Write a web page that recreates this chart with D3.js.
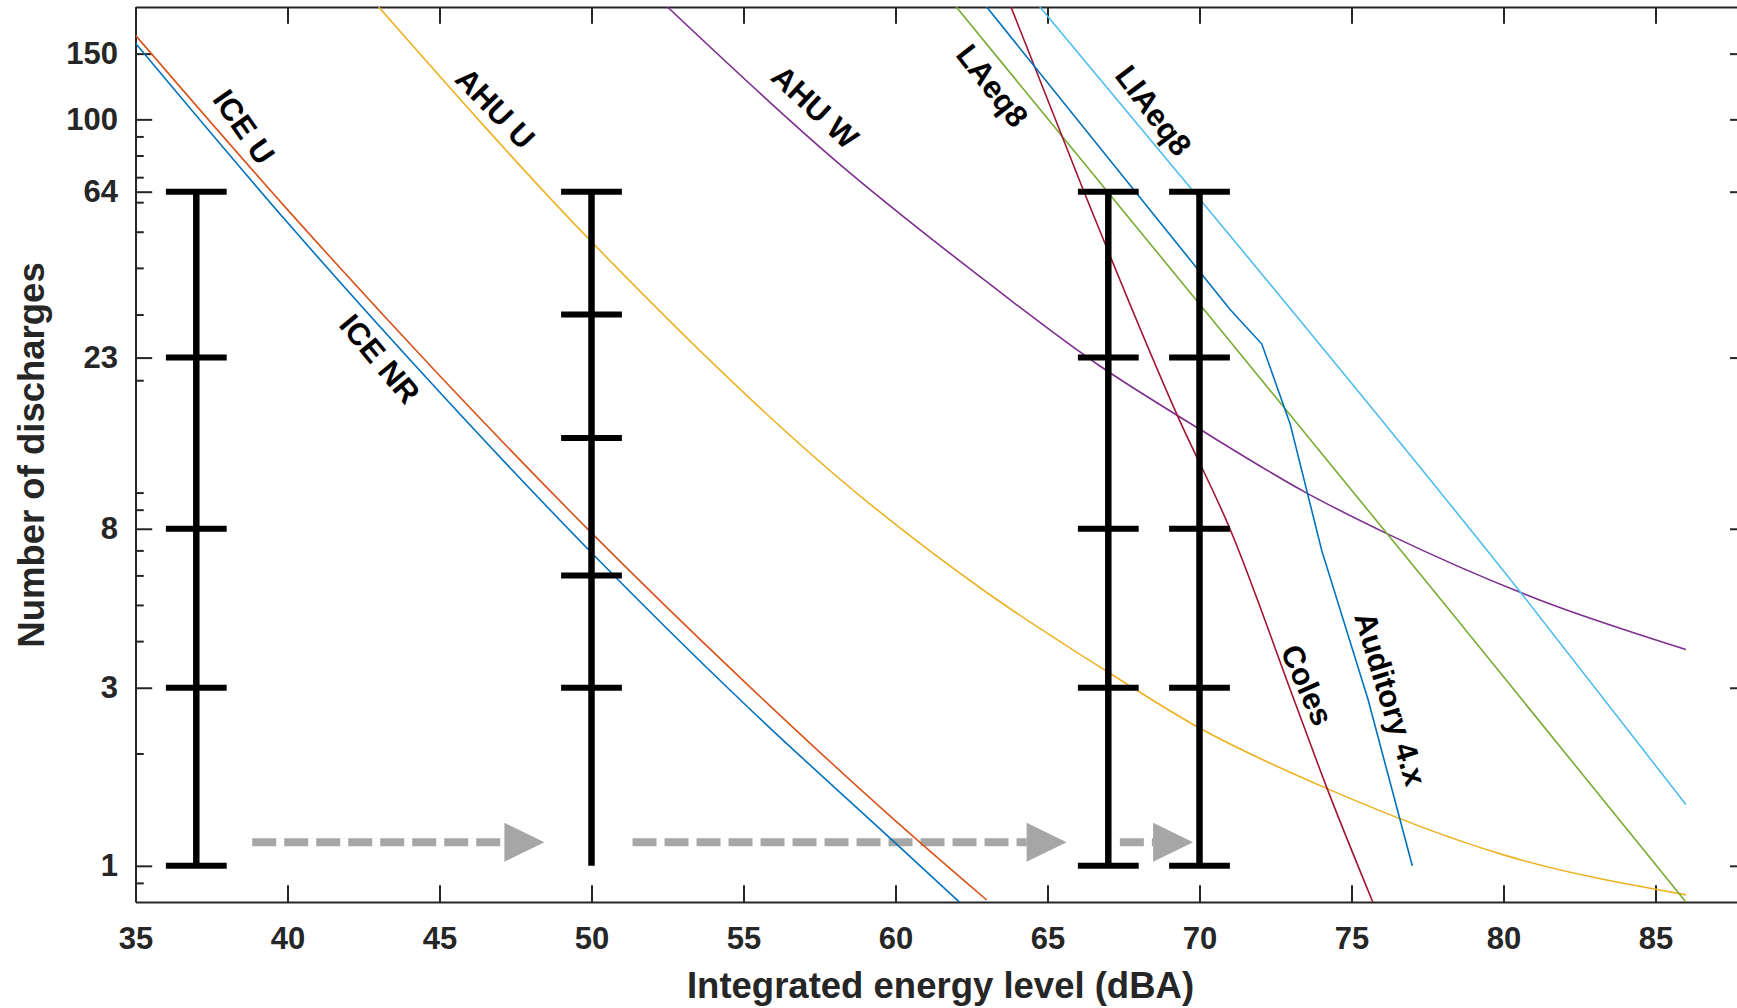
<!DOCTYPE html>
<html><head><meta charset="utf-8">
<script src="https://cdn.jsdelivr.net/npm/d3@7"></script>
<style>
body{margin:0;background:#fff}
svg{display:block}
text{font-family:"Liberation Sans",Arial,Helvetica,sans-serif;font-weight:bold}
</style>
</head><body>
<svg id="chart" width="1737" height="1008"></svg>
<script>
// ---------- data ----------
const xTickValues = [35, 40, 45, 50, 55, 60, 65, 70, 75, 80, 85];
const yTickValues = [1, 3, 8, 23, 64, 100, 150];
const yMinorTicks = [0.9, 2, 4, 5, 6, 7, 9, 10, 20, 30, 40, 50, 60, 70, 80, 90];

// [dBA, number of discharges]
const ICE_U     = [[35,168],[40,57.3],[45,20.6],[50,7.8],[55,3.13],[60,1.32],[63,0.81]];
const ICE_NR    = [[35,160],[40,52.9],[45,18.6],[50,6.9],[55,2.73],[60,1.15],[62.1,0.8]];
const AHU_U     = [[43,200],[50,47],[59,9.55],[63,5.4],[67,3.3],[70,2.34],[74.2,1.61],[80,1.07],[86,0.836]];
const AHU_W     = [[52.5,200],[58.1,76.6],[62.6,38.9],[66.7,21.9],[70,14.8],[73.5,10.0],[76.2,7.74],[81.1,5.19],[86,3.8]];
const LAEQ8     = [[62,200],[70,32],[78,5.1],[86,0.8]];
const LIAEQ8    = [[64.75,200],[69.74,65],[80.65,5.29],[86,1.46]];
const COLES     = [[63.8,200],[66.2,64],[69.3,15.9],[71,8],[73.1,2.8],[74.2,1.61],[75.7,0.8]];
const AUDITORY  = [[63,200],[71,31],[72.05,25],[72.98,15.3],[74.02,7],[75.54,2.8],[77,1]];

const seriesData   = [ICE_U, ICE_NR, AHU_U, AHU_W, LAEQ8, LIAEQ8, COLES, AUDITORY];
const seriesColors = ["#D95319","#0072BD","#EDB120","#7E2F8E","#77AC30","#4DBEEE","#A2142F","#0072BD"];
const seriesSmooth = [true, true, true, true, true, true, true, false];

const labelText  = ["ICE U","ICE NR","AHU U","AHU W","LAeq8","LIAeq8","Coles","Auditory 4.x"];
const labelX     = [38.56, 43.03, 46.83, 57.35, 63.18, 68.48, 73.53, 76.27];
const labelN     = [95.4, 22.8, 107, 107.8, 123, 105.5, 3.05, 2.8];
const labelAngle = [55, 50, 46, 43, 52, 53, 66, 73];

const barX    = [37, 50, 67, 70];
const barLow  = [1, 1, 1, 1];
const barHigh = [64, 64, 64, 64];
const barCaps = [[1,3,8,23,64],[3,6,14,30,64],[1,3,8,23,64],[1,3,8,23,64]];

const arrowStart = [38.84, 51.35, 67.38];
const arrowEnd   = [48.45, 65.63, 69.79];
const arrowLevel = 1.157;

// ---------- layout ----------
const svg = d3.select("#chart");
const L = 135.5, R = 1746.7, T = 7, B = 902;
const x = d3.scaleLinear().domain([35, 88]).range([L, R]);
const y = d3.scaleLog().domain([0.8, 200]).range([B, T]);
const axisColor = "#262626";

svg.append("defs").append("clipPath").attr("id","plot")
  .append("rect").attr("x",L).attr("y",T).attr("width",R-L).attr("height",B-T);

function styleAxis(g){
  g.attr("font-size",31).attr("font-family",'"Liberation Sans",Arial,sans-serif');
  g.selectAll("path.domain").attr("stroke",axisColor).attr("stroke-width",2);
  g.selectAll(".tick line").attr("stroke",axisColor).attr("stroke-width",2);
  g.selectAll(".tick text").attr("fill",axisColor).style("font-weight","bold");
}

// bottom
svg.append("g").attr("transform",`translate(0,${B})`)
  .call(d3.axisBottom(x).tickValues(xTickValues).tickFormat(d3.format("d"))
        .tickSizeInner(-16.7).tickSizeOuter(0).tickPadding(25))
  .call(styleAxis);
// top
svg.append("g").attr("transform",`translate(0,${T})`)
  .call(d3.axisTop(x).tickValues(xTickValues).tickFormat("")
        .tickSizeInner(-16.7).tickSizeOuter(0))
  .call(styleAxis);
// left major
svg.append("g").attr("transform",`translate(${L},0)`)
  .call(d3.axisLeft(y).tickValues(yTickValues).tickFormat(d3.format("d"))
        .tickSizeInner(-16.7).tickSizeOuter(0).tickPadding(17.5))
  .call(styleAxis);
// left minor
svg.append("g").attr("transform",`translate(${L},0)`)
  .call(d3.axisLeft(y).tickValues(yMinorTicks).tickFormat("")
        .tickSizeInner(-8.3).tickSizeOuter(0))
  .call(styleAxis).call(g=>g.select("path.domain").remove());
// right major + minor
svg.append("g").attr("transform",`translate(${R},0)`)
  .call(d3.axisRight(y).tickValues(yTickValues).tickFormat("")
        .tickSizeInner(-16.7).tickSizeOuter(0))
  .call(styleAxis);
svg.append("g").attr("transform",`translate(${R},0)`)
  .call(d3.axisRight(y).tickValues(yMinorTicks).tickFormat("")
        .tickSizeInner(-8.3).tickSizeOuter(0))
  .call(styleAxis).call(g=>g.select("path.domain").remove());

// axis titles
svg.append("text").attr("x",940.5).attr("y",985).attr("text-anchor","middle")
  .attr("dominant-baseline","central").attr("font-size",36.5).attr("fill",axisColor)
  .text("Integrated energy level (dBA)");
svg.append("text").attr("transform","translate(31,455) rotate(-90)")
  .attr("text-anchor","middle").attr("dominant-baseline","central")
  .attr("font-size",36.5).attr("fill",axisColor).text("Number of discharges");

// ---------- arrows ----------
const headLen = 40, headHalf = 19.5;
const ga = svg.append("g").attr("clip-path","url(#plot)");
arrowStart.forEach((s,i)=>{
  const yy = y(arrowLevel), x0 = x(s), x1 = x(arrowEnd[i]);
  ga.append("line").attr("x1",x0).attr("x2",x1-headLen).attr("y1",yy).attr("y2",yy)
    .attr("stroke","#a6a6a6").attr("stroke-width",8).attr("stroke-dasharray","24,8");
  ga.append("path").attr("d",`M${x1},${yy}L${x1-headLen},${yy-headHalf}L${x1-headLen},${yy+headHalf}Z`)
    .attr("fill","#a6a6a6");
});

// ---------- series ----------
const gs = svg.append("g").attr("clip-path","url(#plot)");
seriesData.forEach((d,i)=>{
  const line = d3.line().x(p=>x(p[0])).y(p=>y(p[1]))
    .curve(seriesSmooth[i] ? d3.curveMonotoneX : d3.curveLinear);
  gs.append("path").attr("d",line(d)).attr("fill","none")
    .attr("stroke",seriesColors[i]).attr("stroke-width",1.6);
});

// ---------- error bars ----------
const gb = svg.append("g");
barX.forEach((bx,i)=>{
  gb.append("line").attr("x1",x(bx)).attr("x2",x(bx))
    .attr("y1",y(barLow[i])).attr("y2",y(barHigh[i]))
    .attr("stroke","#000").attr("stroke-width",6.5);
  barCaps[i].forEach(c=>{
    gb.append("line").attr("x1",x(bx-1)).attr("x2",x(bx+1))
      .attr("y1",y(c)).attr("y2",y(c))
      .attr("stroke","#000").attr("stroke-width",6);
  });
});

// ---------- labels ----------
labelText.forEach((t,i)=>{
  svg.append("text")
    .attr("transform",`translate(${x(labelX[i])},${y(labelN[i])}) rotate(${labelAngle[i]})`)
    .attr("text-anchor","middle").attr("dominant-baseline","central")
    .attr("font-size",31).attr("fill","#000").text(t);
});
</script>
</body></html>
